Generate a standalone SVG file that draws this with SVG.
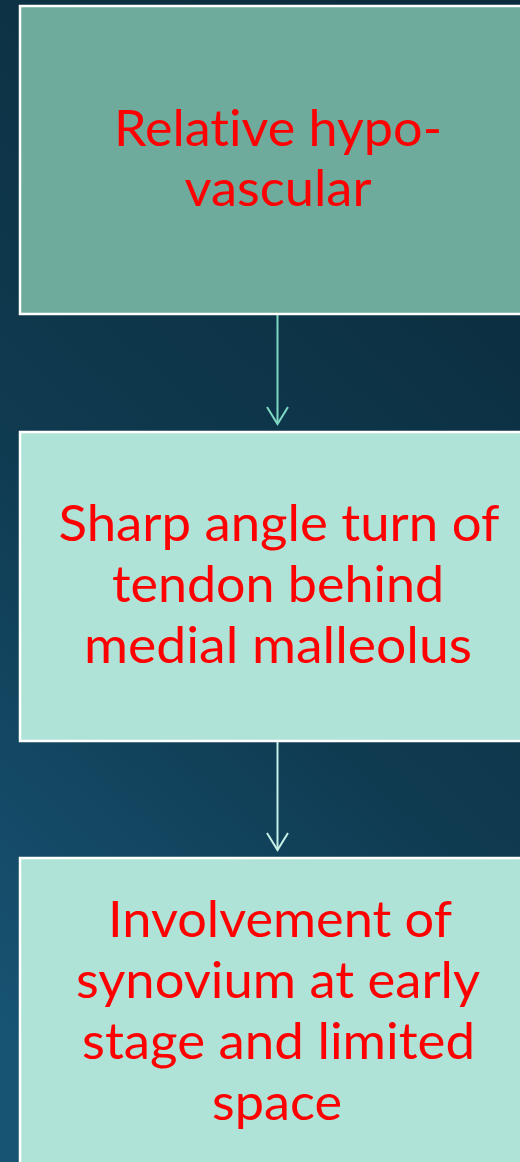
<svg xmlns="http://www.w3.org/2000/svg" width="520" height="1162" viewBox="0 0 520 1162">
  <defs>
    <linearGradient id="bg" x1="0.7" y1="0" x2="0.3" y2="1">
      <stop offset="0" stop-color="#0b2c3c"/>
      <stop offset="0.55" stop-color="#0f3a50"/>
      <stop offset="1" stop-color="#175373"/>
    </linearGradient>
  </defs>
  <style>
    .box { stroke: #ffffff; stroke-width: 2.5; }
    .dark { fill: #6eab9c; }
    .light { fill: #afe3d7; }
    .lbl { font-family: "Lato", "Open Sans", sans-serif; font-size: 50px; fill: #ff0000; text-anchor: middle; font-variant-ligatures: none; font-feature-settings: "liga" 0, "clig" 0; }
    .c1 { stroke: #7ed8c4; stroke-width: 2; fill: none; }
    .c2 { stroke: #c6efe6; stroke-width: 2; fill: none; }
  </style>
  <rect x="0" y="0" width="520" height="1162" fill="url(#bg)"/>

  <g id="connectors">
    <line class="c1" x1="277.5" y1="315" x2="277.5" y2="423"/>
    <polyline class="c1" points="267,407 277.5,424 288,407"/>
    <line class="c2" x1="277.5" y1="742" x2="277.5" y2="850"/>
    <polyline class="c2" points="267,833 277.5,850 288,833"/>
  </g>

  <g id="node1">
    <rect class="box dark" x="20" y="6" width="530" height="308"/>
    <text class="lbl" x="278" y="146" textLength="328" lengthAdjust="spacingAndGlyphs">Relative hypo-</text>
    <text class="lbl" x="278" y="206" textLength="187" lengthAdjust="spacingAndGlyphs">vascular</text>
  </g>

  <g id="node2">
    <rect class="box light" x="20" y="432" width="530" height="309"/>
    <text class="lbl" x="279" y="541" textLength="441" lengthAdjust="spacingAndGlyphs">Sharp angle turn of</text>
    <text class="lbl" x="278" y="602" textLength="332" lengthAdjust="spacingAndGlyphs">tendon behind</text>
    <text class="lbl" x="278" y="663" textLength="388" lengthAdjust="spacingAndGlyphs">medial malleolus</text>
  </g>

  <g id="node3">
    <rect class="box light" x="20" y="858" width="530" height="320"/>
    <text class="lbl" x="280" y="937" textLength="344" lengthAdjust="spacingAndGlyphs">Involvement of</text>
    <text class="lbl" x="278" y="998" textLength="404" lengthAdjust="spacingAndGlyphs">synovium at early</text>
    <text class="lbl" x="278.5" y="1059" textLength="393" lengthAdjust="spacingAndGlyphs">stage and limited</text>
    <text class="lbl" x="277" y="1120" textLength="130" lengthAdjust="spacingAndGlyphs">space</text>
  </g>
</svg>
